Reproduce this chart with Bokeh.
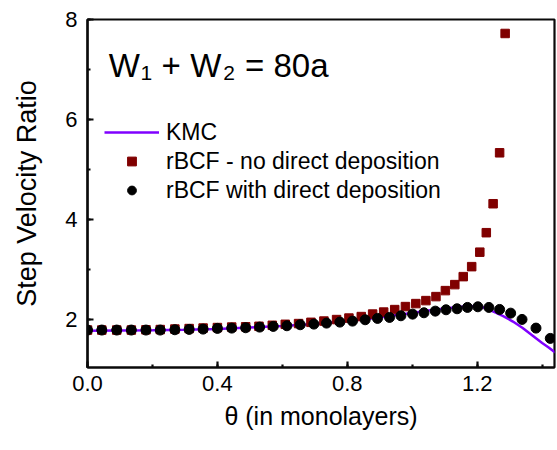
from bokeh.plotting import figure
from bokeh.models import (Range1d, SingleIntervalTicker, Legend,
                          LegendItem, Label, PrintfTickFormatter)
from bokeh.embed import file_html
from bokeh.resources import INLINE

# ---------------- data ----------------
kmc_x = [0.0, 0.1, 0.2, 0.3, 0.4, 0.5, 0.6, 0.7, 0.8, 0.9, 0.95, 1.0, 1.05,
         1.1, 1.15, 1.19, 1.22, 1.25, 1.28, 1.31, 1.34, 1.37, 1.40, 1.42, 1.44]
kmc_y = [1.765, 1.77, 1.775, 1.785, 1.80, 1.83, 1.86, 1.90, 1.96, 2.03, 2.08,
         2.12, 2.17, 2.21, 2.245, 2.255, 2.23, 2.15, 2.06, 1.95, 1.82, 1.67,
         1.52, 1.43, 1.33]

nodd_x = [0.0, 0.044, 0.090, 0.135, 0.180, 0.224, 0.269, 0.313, 0.356, 0.400,
          0.444, 0.487, 0.528, 0.569, 0.609, 0.650, 0.688, 0.728, 0.767, 0.805,
          0.843, 0.878, 0.912, 0.946, 0.979, 1.011, 1.042, 1.073, 1.102, 1.131,
          1.157, 1.183, 1.208, 1.228, 1.249, 1.269, 1.286]
nodd_y = [1.78, 1.78, 1.78, 1.78, 1.785, 1.79, 1.80, 1.81, 1.82, 1.83, 1.84,
          1.845, 1.855, 1.875, 1.895, 1.91, 1.935, 1.96, 1.99, 2.02, 2.05, 2.10,
          2.14, 2.19, 2.25, 2.31, 2.37, 2.45, 2.57, 2.69, 2.85, 3.05, 3.34,
          3.73, 4.31, 5.33, 7.72]

dd_x = [0.0, 0.044, 0.090, 0.135, 0.180, 0.224, 0.269, 0.313, 0.356, 0.400,
        0.444, 0.487, 0.530, 0.572, 0.614, 0.655, 0.697, 0.736, 0.777, 0.816,
        0.855, 0.893, 0.930, 0.965, 1.001, 1.036, 1.071, 1.104, 1.138, 1.170,
        1.202, 1.236, 1.269, 1.303, 1.338, 1.381, 1.425]
dd_y = [1.78, 1.78, 1.78, 1.78, 1.78, 1.78, 1.786, 1.793, 1.799, 1.813,
        1.819, 1.826, 1.839, 1.853, 1.866, 1.886, 1.899, 1.919, 1.939, 1.959,
        1.986, 2.013, 2.033, 2.066, 2.099, 2.126, 2.159, 2.186, 2.206, 2.233,
        2.246, 2.233, 2.193, 2.119, 1.993, 1.819, 1.613]

legend_labels = ["KMC", "rBCF - no direct deposition", "rBCF with direct deposition"]

# ---------------- figure ----------------
FONT = "Liberation Sans"
FRAME = "#0a0a0a"
p = figure(width=557, height=450, output_backend="svg", toolbar_location=None,
           x_range=Range1d(0.0, 1.438), y_range=Range1d(1.03, 8.0),
           min_border_left=87, min_border_right=3, min_border_top=19,
           min_border_bottom=83)
p.grid.visible = False
p.outline_line_color = FRAME
p.outline_line_width = 2.2
p.outline_line_alpha = 1.0


def style_axis(ax):
    ax.axis_line_width = 2.2
    ax.axis_line_color = FRAME
    ax.major_tick_in = 6
    ax.major_tick_out = 0
    ax.minor_tick_in = 3
    ax.minor_tick_out = 0
    ax.major_tick_line_width = 2.2
    ax.minor_tick_line_width = 2.2
    ax.major_tick_line_color = FRAME
    ax.minor_tick_line_color = FRAME
    ax.major_label_text_font = FONT
    ax.major_label_text_color = "black"
    ax.axis_label_text_font = FONT
    ax.axis_label_text_font_style = "normal"
    ax.axis_label_text_color = "black"


xb = p.xaxis[0]
xb.ticker = SingleIntervalTicker(interval=0.4, num_minor_ticks=2)
xb.axis_label = "θ (in monolayers)"
xb.formatter = PrintfTickFormatter(format="%.1f")
style_axis(xb)
xb.major_label_text_font_size = "22px"
xb.major_label_standoff = 8
xb.axis_label_text_font_size = "25px"
xb.axis_label_standoff = 8

yl = p.yaxis[0]
yl.ticker = SingleIntervalTicker(interval=2, num_minor_ticks=2)
yl.axis_label = "Step Velocity Ratio"
style_axis(yl)
yl.major_label_text_font_size = "22px"
yl.major_label_standoff = 10
yl.axis_label_text_font_size = "27px"
yl.axis_label_standoff = 20

# ---------------- series ----------------
r_kmc = p.line(kmc_x, kmc_y, line_color="#8000ff", line_width=2.5)
r_nodd = p.scatter(nodd_x, nodd_y, marker="square", size=8.5,
                   fill_color="#800000", line_color="#800000")
r_dd = p.scatter(dd_x, dd_y, marker="circle", size=10,
                 fill_color="black", line_color="black")

legend = Legend(items=[LegendItem(label=legend_labels[0], renderers=[r_kmc]),
                       LegendItem(label=legend_labels[1], renderers=[r_nodd]),
                       LegendItem(label=legend_labels[2], renderers=[r_dd])],
                location=(17, 163), glyph_width=55, glyph_height=22,
                label_height=28, label_standoff=7, spacing=1, padding=0,
                margin=0, border_line_color=None, background_fill_alpha=0,
                label_text_font=FONT, label_text_font_size="23px",
                label_text_color="black")
p.add_layout(legend, "center")

# ---------------- title annotation: W1 + W2 = 80a ----------------
big = "33px"
small = "21px"
pieces = [("W", 0.0653, 7.086, big), ("1", 0.1634, 6.926, small),
          ("+", 0.2277, 7.086, big), ("W", 0.3166, 7.086, big),
          ("2", 0.4177, 6.926, small), ("= 80a", 0.4851, 7.086, big)]
for t, x, y, fs in pieces:
    p.add_layout(Label(x=x, y=y, text=t, text_font=FONT, text_font_size=fs,
                       text_baseline="alphabetic", text_align="left",
                       text_color="black"))

open("out.html", "w").write(file_html(p, INLINE))
